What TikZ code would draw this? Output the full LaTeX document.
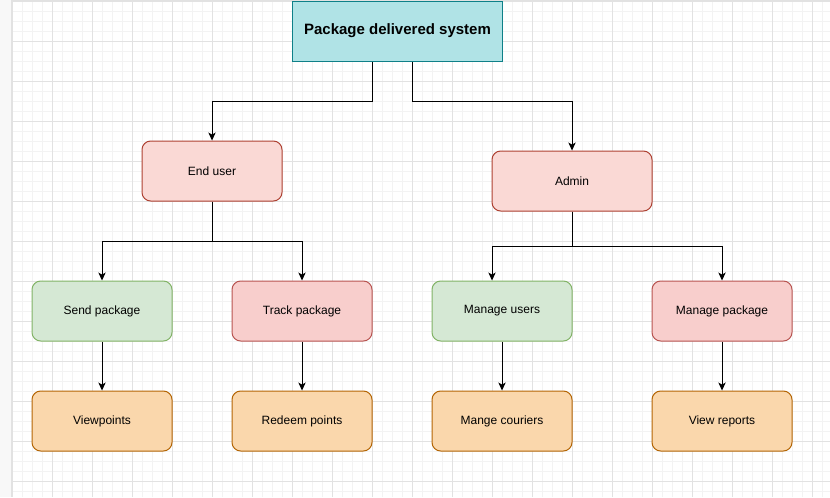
\documentclass[tikz,border=0pt]{standalone}
\usepackage{fontspec}
\setmainfont{Liberation Sans}
\usetikzlibrary{arrows.meta,calc}
\definecolor{gridmin}{HTML}{F3F3F3}
\definecolor{gridmaj}{HTML}{E2E2E2}
\definecolor{strip}{HTML}{F8F8F8}
\definecolor{topfill}{HTML}{B0E3E6}
\definecolor{topline}{HTML}{0E8088}
\definecolor{redfill}{HTML}{FAD9D5}
\definecolor{redline}{HTML}{AE4132}
\definecolor{pinkfill}{HTML}{F8CECC}
\definecolor{pinkline}{HTML}{B85450}
\definecolor{greenfill}{HTML}{D5E8D4}
\definecolor{greenline}{HTML}{82B366}
\definecolor{orangefill}{HTML}{FAD7AC}
\definecolor{orangeline}{HTML}{B46504}
\tikzset{
  box/.style={draw, line width=0.75pt, minimum width=105pt, minimum height=45pt,
    inner sep=0pt, rounded corners=6.5pt, font=\fontsize{9}{11}\selectfont, text=black},
  redbox/.style={box, fill=redfill, draw=redline},
  pinkbox/.style={box, fill=pinkfill, draw=pinkline},
  greenbox/.style={box, fill=greenfill, draw=greenline},
  orangebox/.style={box, fill=orangefill, draw=orangeline},
  conn/.style={line width=0.75pt, draw=black, -{Stealth[length=6pt,width=5.5pt,inset=1.6pt]}}
}
\begin{document}
\begin{tikzpicture}[x=0.75pt,y=-0.75pt]
\useasboundingbox (0,0) rectangle (830,497);
\fill[white] (0,0) rectangle (830,497);
% minor grid
\foreach \i in {0,...,82} {\draw[gridmin, line width=0.75pt] (12+\i*10,0) -- (12+\i*10,497);}
\foreach \j in {0,...,50} {\draw[gridmin, line width=0.75pt] (12,1+\j*10) -- (830,1+\j*10);}
% major grid
\foreach \i in {0,...,20} {\draw[gridmaj, line width=0.75pt] (12+\i*40,0) -- (12+\i*40,497);}
\foreach \j in {0,...,12} {\draw[gridmaj, line width=0.75pt] (12,1+\j*40) -- (830,1+\j*40);}
% left strip
\fill[strip] (0,0) rectangle (11,497);
\draw[gridmaj, line width=0.75pt] (11.5,0) -- (11.5,497);
\draw[gridmaj, line width=0.75pt] (12,0.5) -- (830,0.5);

% nodes
\node[draw=topline, fill=topfill, line width=0.75pt, minimum width=157.5pt, minimum height=45pt,
  inner sep=0pt, font=\fontsize{11.25}{13}\selectfont\bfseries] (top) at (397.5,31) {Package delivered system};
\node[redbox] (eu) at (212,171) {End user};
\node[redbox, minimum width=120pt] (ad) at (572,181) {Admin};
\node[greenbox] (sp) at (102,311) {Send package};
\node[pinkbox] (tp) at (302,311) {Track package};
\node[greenbox] (mu) at (502,311) {Manage users};
\node[pinkbox] (mp) at (722,311) {Manage package};
\node[orangebox] (vp) at (102,421) {Viewpoints};
\node[orangebox] (rp) at (302,421) {Redeem points};
\node[orangebox] (mc) at (502,421) {Mange couriers};
\node[orangebox] (vr) at (722,421) {View reports};

% connectors
\draw[conn] ($(top.south)+(-25.5,0)$) -- ++(0,40) -| (eu.north);
\draw[conn] ($(top.south)+(14.5,0)$) -- ++(0,40) -| (ad.north);
\draw[conn] (eu.south) -- ++(0,40) -| (sp.north);
\draw[conn] (eu.south) -- ++(0,40) -| (tp.north);
\draw[conn] (ad.south) -- ++(0,35) -| ($(mu.north)+(-10,0)$);
\draw[conn] (ad.south) -- ++(0,35) -| (mp.north);
\draw[conn] (sp.south) -- (vp.north);
\draw[conn] (tp.south) -- (rp.north);
\draw[conn] (mu.south) -- (mc.north);
\draw[conn] (mp.south) -- (vr.north);
\end{tikzpicture}
\end{document}
